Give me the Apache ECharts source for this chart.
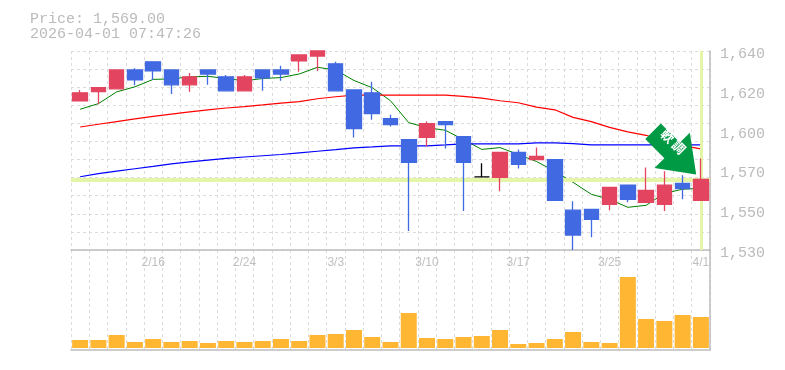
<!DOCTYPE html>
<html><head><meta charset="utf-8">
<style>html,body{margin:0;padding:0;background:#fff}#c{width:785px;height:370px}</style>
<script src="https://cdn.jsdelivr.net/npm/echarts@6/dist/echarts.min.js"></script>
</head><body><div id="c"></div>
<script>
const dates = ['2/9','2/10','2/12','2/13','2/16','2/17','2/18','2/19','2/20','2/24','2/25','2/26','2/27','3/2','3/3','3/4','3/5','3/6','3/9','3/10','3/11','3/12','3/13','3/16','3/17','3/18','3/19','3/23','3/24','3/25','3/26','3/27','3/30','3/31','4/1'];
const opens  = [1612.5,1617.5,1619.1,1629.5,1634,1629.5,1621.3,1629.5,1625.7,1618,1629.5,1629.5,1634.5,1637.2,1632.9,1618.5,1616.9,1602.6,1591,1592.2,1601,1592.7,1570.4,1570.2,1583.9,1580,1580,1552,1552.5,1555.3,1565.8,1556.4,1555.3,1566.8,1557.5];
const closes = [1616.9,1619.7,1629.5,1624,1629,1621.3,1625.7,1627.3,1618,1625.7,1625.1,1627.3,1637.8,1640,1618,1597.1,1605.4,1599.3,1578.4,1599.9,1599.3,1578.4,1570.4,1583.9,1577.3,1581.7,1557.5,1538.3,1547,1564.6,1558,1563,1565.8,1564,1569];
const lows   = [1612.5,1610.5,1619.1,1621,1624,1616.3,1617.5,1621.3,1618,1618,1618,1623.5,1628.5,1629,1618,1592.2,1602,1598.2,1540.5,1587.2,1586.1,1551.5,1570.4,1562.5,1575.1,1580,1557.5,1530,1537.1,1552,1556.4,1556.4,1551.5,1558,1557.5];
const highs  = [1618.5,1619.7,1629.5,1630.5,1634,1629.5,1627.9,1629.5,1626.8,1626.8,1629.5,1631.8,1637.8,1640,1634,1618.5,1623,1604.8,1591,1601,1601,1592.7,1577.9,1583.9,1585.6,1586.6,1580,1556.9,1552.5,1564.6,1565.8,1575.6,1573.5,1571.3,1580.6];
const volumes = [8,8,13,6,9,6,7,5,7,6,7,9,7,13,14,18,11,6,35,10,9,11,12,18,4,5,9,16,6,5,71,29,27,33,31];
const ma5  = [1607.8,1610.9,1617.4,1620.2,1624.3,1624.6,1625.7,1626,1624.8,1623.5,1624.8,1625.3,1627.3,1631,1629.5,1623.7,1619.7,1612.5,1600.4,1597.6,1596.2,1591,1585.6,1586.6,1582.8,1578.9,1573.5,1567.4,1560.8,1558,1553.6,1554.7,1561.3,1563.6,1564.1];
const ma25 = [1598,1599.5,1601,1602.5,1603.9,1605.1,1606.3,1607.5,1608.5,1609.3,1610.2,1611.2,1612,1613.6,1614.7,1615.6,1615.6,1615.6,1615.6,1615.6,1615.6,1614.9,1614,1612.5,1611.4,1609,1607.5,1603.3,1601,1597.8,1595.3,1593.4,1590,1587.7,1585.9];
const ma75 = [1570.5,1572.2,1573.6,1574.9,1576.2,1577.6,1578.7,1579.7,1580.6,1581.4,1582.1,1582.8,1583.7,1584.6,1585.5,1586.5,1587,1587.6,1587.6,1587.6,1588.1,1588.7,1588.7,1588.7,1588.7,1589.2,1589.2,1588.8,1588.1,1588.1,1588.1,1588.1,1588.1,1588.1,1588.1];
const currentPrice = 1569;
const priceText = 'Price: 1,569.00';
const timeText = '2026-04-01 07:47:26';
const arrowText = '軟\u2009調';

const candles = dates.map((_, i) => [opens[i], closes[i], lows[i], highs[i]]);
const grayLine = { color: '#bdbdbd', width: 1.5 };
const dashLine = { show: true, lineStyle: { color: '#dcdcdc', type: [3, 3], width: 1 } };
const mono = '"Liberation Mono", monospace';
const chart = echarts.init(document.getElementById('c'), null, { renderer: 'canvas' });
function maSeries(name, data, color, width) {
  return { name, type: 'line', data, symbol: 'none', z: 2, silent: true, lineStyle: { color, width } };
}
chart.setOption({
  animation: false,
  backgroundColor: '#fff',
  title: [
    { text: priceText, left: 25, top: 7, textStyle: { fontFamily: mono, fontSize: 15, fontWeight: 'normal', color: '#bbb' } },
    { text: timeText, left: 25, top: 22, textStyle: { fontFamily: mono, fontSize: 15, fontWeight: 'normal', color: '#bbb' } }
  ],
  grid: [
    { left: 71, right: 75, top: 51, height: 199 },
    { left: 71, right: 75, top: 250, height: 100 }
  ],
  xAxis: [
    { type: 'category', gridIndex: 0, data: dates, boundaryGap: true,
      axisLine: { show: true, lineStyle: grayLine }, axisTick: { show: false },
      splitLine: { ...dashLine, interval: 0 },
      axisLabel: { interval: i => (i + 1) % 5 === 0, margin: 7, fontFamily: '"Liberation Sans"', fontSize: 12, color: '#c0c0c0' } },
    { type: 'category', gridIndex: 1, data: dates, boundaryGap: true,
      axisLine: { show: true, onZero: false, lineStyle: grayLine }, axisTick: { show: false },
      splitLine: { ...dashLine, interval: 0 }, axisLabel: { show: false } }
  ],
  yAxis: [
    { type: 'value', gridIndex: 0, position: 'right', min: 1530, max: 1640, interval: 22,
      axisLine: { show: true, lineStyle: grayLine }, axisTick: { show: false }, splitLine: { show: false },
      axisLabel: { margin: 10, fontFamily: mono, fontSize: 15, color: '#bbb', verticalAlign: 'top', lineHeight: 6,
        formatter: v => (Math.round(v / 10) * 10).toLocaleString('en-US') } },
    { type: 'value', gridIndex: 0, position: 'right', min: 1530, max: 1640, interval: 10,
      axisLine: { show: false }, axisTick: { show: false }, axisLabel: { show: false }, splitLine: dashLine },
    { type: 'value', gridIndex: 1, position: 'right', min: -2, max: 98,
      axisLine: { show: true, lineStyle: grayLine }, axisTick: { show: false }, axisLabel: { show: false }, splitLine: { show: false } }
  ],
  series: [
    { type: 'line', data: [], z: 1, markLine: { silent: true, symbol: 'none', animation: false, label: { show: false },
        lineStyle: { color: '#e4f5a8', width: 4, type: 'solid' },
        data: [ { yAxis: currentPrice }, { xAxis: '4/1', lineStyle: { color: '#e4f5a8', width: 3, type: 'solid' } } ] } },
    maSeries('ma5', ma5, '#008000', 1),
    maSeries('ma25', ma25, '#ff0000', 1.2),
    maSeries('ma75', ma75, '#0000ff', 1.2),
    { type: 'candlestick', data: candles, barWidth: 15, z: 5, silent: true,
      itemStyle: { color: '#e34560', color0: '#4169e1', borderColor: '#e34560', borderColor0: '#4169e1', borderWidth: 1.3, borderColorDoji: '#000' },
      markPoint: { silent: true, animation: false,
        data: [ { coord: ['3/31', 1583.7], symbol: 'path://M14,0 L36,0 L36,27 L50,27 L25,61 L0,27 L14,27 Z', symbolSize: [50, 61], symbolRotate: 45, symbolOffset: [-8, 0],
          itemStyle: { color: '#009944' },
          label: { show: true, formatter: arrowText, position: 'inside', rotate: -45, offset: [-9, -7], color: '#fff', fontSize: 13, fontWeight: 'bold', fontFamily: '"Noto Sans CJK JP"' } } ] } },
    { type: 'bar', xAxisIndex: 1, yAxisIndex: 2, data: volumes, barWidth: 16, itemStyle: { color: '#ffb733' }, silent: true }
  ]
});
</script></body></html>
